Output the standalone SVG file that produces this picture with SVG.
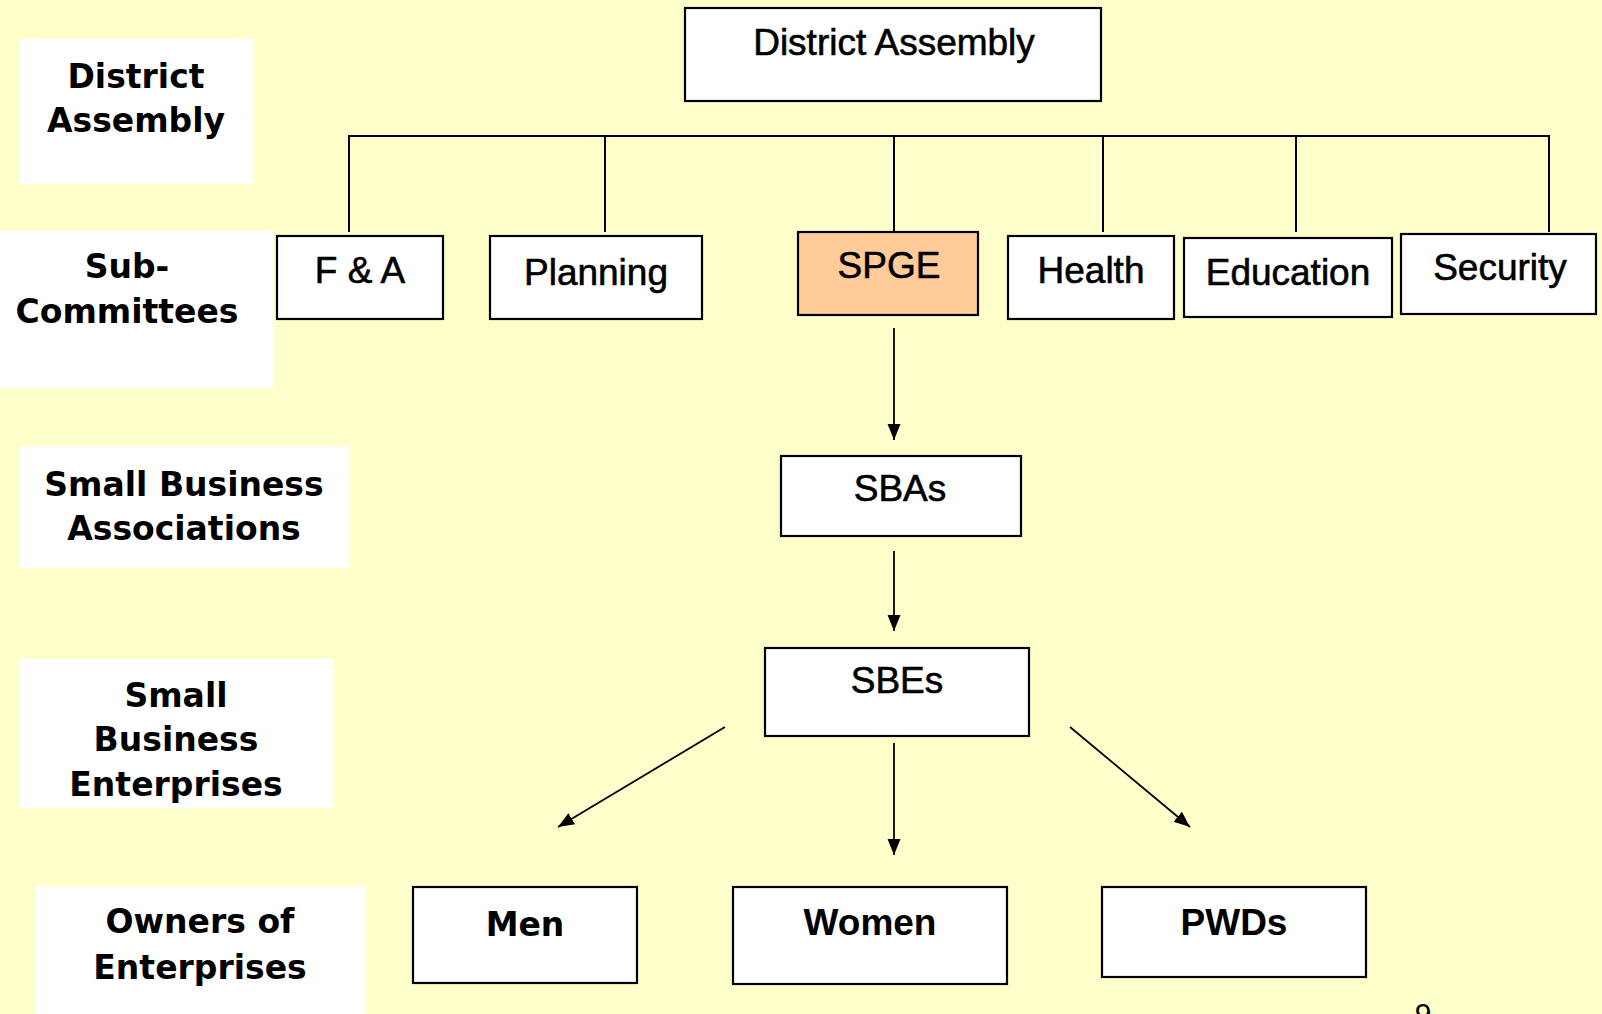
<svg xmlns="http://www.w3.org/2000/svg" width="1602" height="1014" viewBox="0 0 1602 1014">
<style>
.lbl{fill:#fff}
.lt{font-family:"DejaVu Sans",sans-serif;font-weight:bold;font-size:33px;fill:#000;text-anchor:middle}
.box{fill:#fff;stroke:#000;stroke-width:2.2}
.nt{font-family:"Liberation Sans",Arial,sans-serif;font-size:37px;fill:#000;stroke:#000;stroke-width:0.6;text-anchor:middle}
.bt{font-family:"Liberation Sans",Arial,sans-serif;font-weight:bold;font-size:37px;fill:#000;text-anchor:middle}
.ln{stroke:#000;stroke-width:2;fill:none}
.ar{stroke:#000;stroke-width:1.8;fill:none;marker-end:url(#ah)}
</style>
<defs>
<marker id="ah" markerUnits="userSpaceOnUse" markerWidth="16" markerHeight="18" refX="16" refY="6.5" orient="auto" viewBox="0 0 16 13">
<path d="M0,0 L16,6.5 L0,13 Z" fill="#000"/>
</marker>
</defs>
<rect width="1602" height="1014" fill="#FFFFCC"/>

<g id="label-district-assembly">
<rect class="lbl" x="19" y="39" width="235" height="145"/>
<text class="lt" x="136" y="88">District</text>
<text class="lt" x="136" y="132">Assembly</text>
</g>
<g id="label-sub-committees">
<rect class="lbl" x="0" y="231" width="273" height="157"/>
<text class="lt" x="127" y="278">Sub-</text>
<text class="lt" x="127" y="323">Committees</text>
</g>
<g id="label-sba">
<rect class="lbl" x="19" y="446" width="330" height="122"/>
<text class="lt" x="184" y="496">Small Business</text>
<text class="lt" x="184" y="540">Associations</text>
</g>
<g id="label-sbe">
<rect class="lbl" x="19" y="659" width="315" height="149"/>
<text class="lt" x="176" y="707">Small</text>
<text class="lt" x="176" y="751">Business</text>
<text class="lt" x="176" y="796">Enterprises</text>
</g>
<g id="label-owners">
<rect class="lbl" x="35" y="886" width="331" height="128"/>
<text class="lt" x="200" y="933">Owners of</text>
<text class="lt" x="200" y="979">Enterprises</text>
</g>

<g id="connectors">
<path class="ln" d="M349,232 V136 H1549 V232 M605,136 V232 M894,136 V232 M1103,136 V232 M1296,136 V232"/>
<line class="ar" x1="894" y1="328" x2="894" y2="440"/>
<line class="ar" x1="894" y1="551" x2="894" y2="631"/>
<line class="ar" x1="894" y1="743" x2="894" y2="855"/>
<line class="ar" x1="725" y1="727" x2="558" y2="827"/>
<line class="ar" x1="1070" y1="727" x2="1190" y2="827"/>
</g>

<g id="node-district-assembly">
<rect class="box" x="685" y="8" width="416" height="93"/>
<text class="nt" x="894" y="55">District Assembly</text>
</g>
<g id="node-fa">
<rect class="box" x="277" y="236" width="166" height="83"/>
<text class="nt" x="360" y="283">F &amp; A</text>
</g>
<g id="node-planning">
<rect class="box" x="490" y="236" width="212" height="83"/>
<text class="nt" x="596" y="285">Planning</text>
</g>
<g id="node-spge">
<rect class="box" x="798" y="232" width="180" height="83" style="fill:#FFCC99"/>
<text class="nt" x="889" y="278">SPGE</text>
</g>
<g id="node-health">
<rect class="box" x="1008" y="236" width="166" height="83"/>
<text class="nt" x="1091" y="283">Health</text>
</g>
<g id="node-education">
<rect class="box" x="1184" y="238" width="208" height="79"/>
<text class="nt" x="1288" y="285">Education</text>
</g>
<g id="node-security">
<rect class="box" x="1401" y="234" width="195" height="80"/>
<text class="nt" x="1500" y="280">Security</text>
</g>
<g id="node-sbas">
<rect class="box" x="781" y="456" width="240" height="80"/>
<text class="nt" x="900" y="501">SBAs</text>
</g>
<g id="node-sbes">
<rect class="box" x="765" y="648" width="264" height="88"/>
<text class="nt" x="897" y="693">SBEs</text>
</g>
<g id="node-men">
<rect class="box" x="413" y="887" width="224" height="96"/>
<text class="lt" x="525" y="936">Men</text>
</g>
<g id="node-women">
<rect class="box" x="733" y="887" width="274" height="97"/>
<text class="bt" x="870" y="935">Women</text>
</g>
<g id="node-pwds">
<rect class="box" x="1102" y="887" width="264" height="90"/>
<text class="bt" x="1234" y="935">PWDs</text>
</g>
<text x="1423" y="1024" font-family="Liberation Sans, Arial, sans-serif" font-size="30" text-anchor="middle">9</text>
</svg>
